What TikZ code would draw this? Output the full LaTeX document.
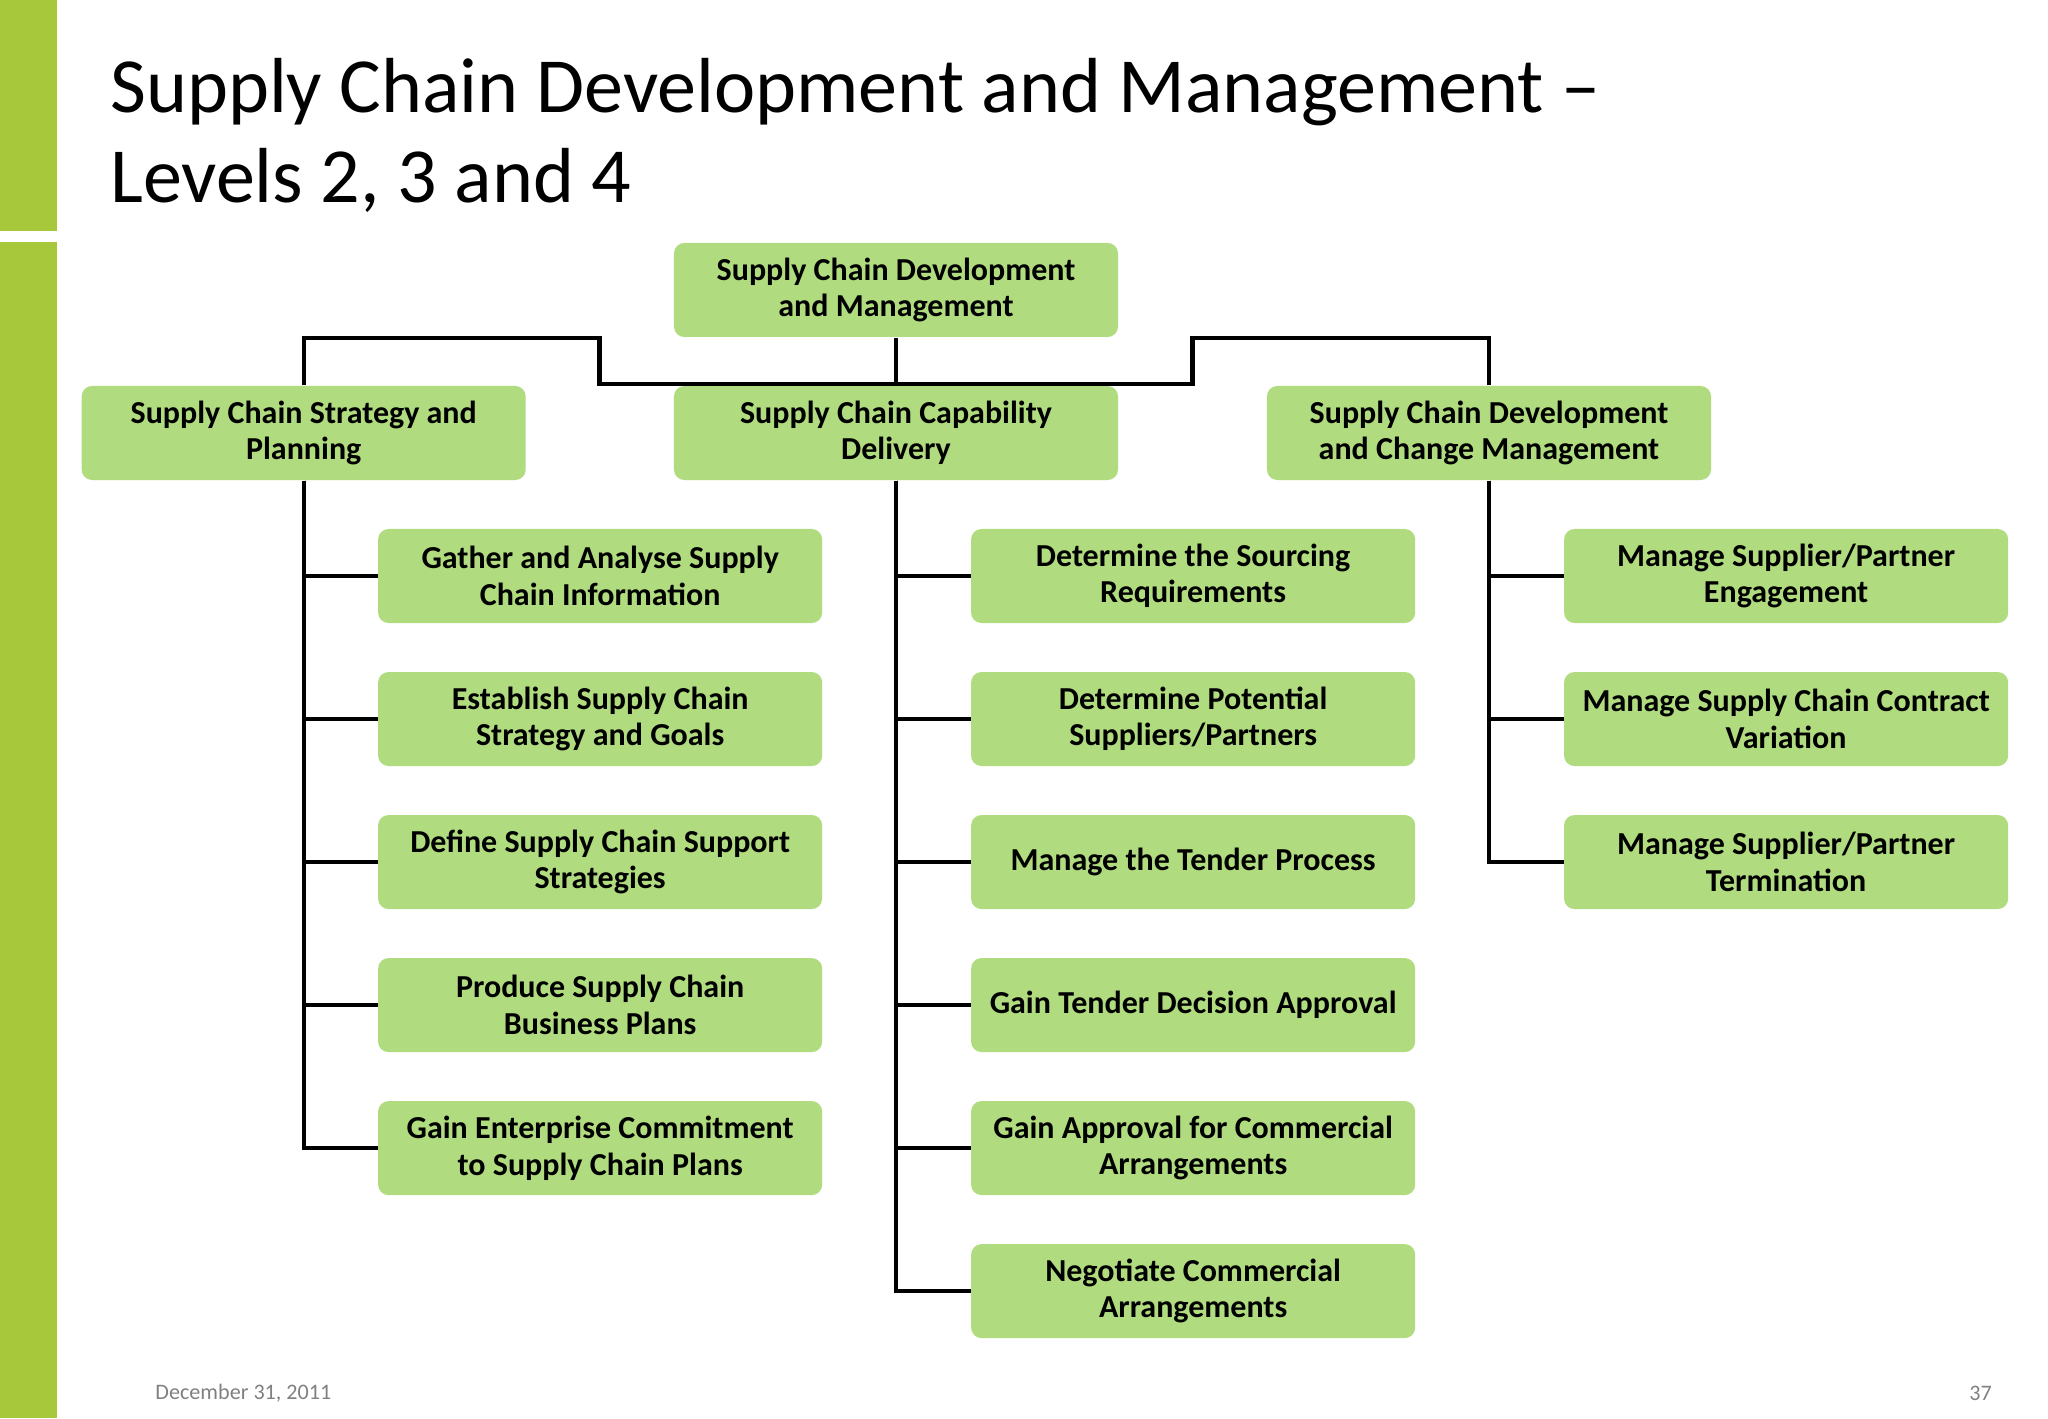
\documentclass[tikz,border=0pt]{standalone}
\usepackage{fontspec}
\setmainfont{Carlito}
\definecolor{bar}{RGB}{166,200,58}
\definecolor{boxg}{RGB}{176,219,126}
\begin{document}
\begin{tikzpicture}[x=0.5bp,y=-0.5bp,
  bx/.style={fill=boxg,rounded corners=4bp,minimum width=170bp,minimum height=36bp,align=center,font=\bfseries\fontsize{12.3}{14}\selectfont,inner sep=1bp},
  ln/.style={line width=1.6bp}]
\useasboundingbox (0,0) rectangle (1568,1086);
\fill[bar] (0,0) rectangle (44,177);
\fill[bar] (0,185) rectangle (44,1086);
\node[anchor=north west,align=left,font=\fontsize{30}{34.5}\selectfont,inner sep=0] at (84,44) {Supply Chain Development and Management --\\Levels 2, 3 and 4};
\node[bx] (top) at (686,222) {Supply Chain Development\\and Management};
\node[bx] (a) at (232.5,331.5) {Supply Chain Strategy and\\Planning};
\node[bx] (b) at (686,331.5) {Supply Chain Capability\\Delivery};
\node[bx] (c) at (1140,331.5) {Supply Chain Development\\and Change Management};
\foreach \n/\y/\t in {1/441/{Gather and Analyse Supply\\Chain Information},2/550.5/{Establish Supply Chain\\Strategy and Goals},3/660/{Define Supply Chain Support\\Strategies},4/769.5/{Produce Supply Chain\\Business Plans},5/879/{Gain Enterprise Commitment\\to Supply Chain Plans}}
  {\node[bx] (a\n) at (459.5,\y) {\t}; \draw[ln] (a.south) |- (a\n.west);}
\foreach \n/\y/\t in {1/441/{Determine the Sourcing\\Requirements},2/550.5/{Determine Potential\\Suppliers/Partners},3/660/{Manage the Tender Process},4/769.5/{Gain Tender Decision Approval},5/879/{Gain Approval for Commercial\\Arrangements},6/988.5/{Negotiate Commercial\\Arrangements}}
  {\node[bx] (b\n) at (913.5,\y) {\t}; \draw[ln] (b.south) |- (b\n.west);}
\foreach \n/\y/\t in {1/441/{Manage Supplier/Partner\\Engagement},2/550.5/{Manage Supply Chain Contract\\Variation},3/660/{Manage Supplier/Partner\\Termination}}
  {\node[bx] (c\n) at (1367.5,\y) {\t}; \draw[ln] (c.south) |- (c\n.west);}
\coordinate (h) at (686,294);
\draw[ln] (top.south) -- (b.north);
\draw[ln] (a.north) -- (232.5,259) -- (459,259) -- (459,294) -- (913,294) -- (913,259) -- (1140,259) -- (c.north);
\node[anchor=west,text=gray,font=\fontsize{8.5}{10}\selectfont] (d) at (112,1067) {December 31, 2011};
\node[anchor=east,text=gray,font=\fontsize{8.5}{10}\selectfont] (p) at (1532,1067) {37};
\end{tikzpicture}
\end{document}
